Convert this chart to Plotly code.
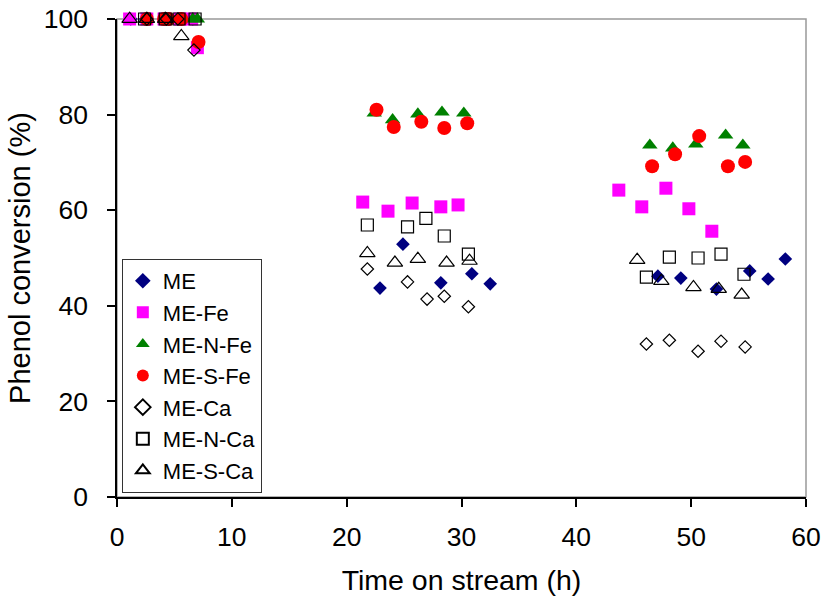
import plotly.graph_objects as go

# ---- data (time on stream h, phenol conversion %) ----
me_t = [1.2, 2.5, 4.2, 5.4, 6.6, 22.9, 24.9, 28.2, 30.9, 32.5, 47.1, 49.1, 52.2, 55.1, 56.7, 58.2]
me_v = [100, 100, 100, 100, 100, 43.7, 52.9, 44.8, 46.7, 44.6, 46.2, 45.8, 43.5, 47.3, 45.6, 49.8]

mefe_t = [1.1, 2.6, 4.1, 5.5, 6.5, 7.0, 21.4, 23.6, 25.7, 28.2, 29.7, 43.7, 45.7, 47.8, 49.8, 51.8]
mefe_v = [100, 100, 100, 100, 100, 94.0, 61.7, 59.8, 61.5, 60.7, 61.1, 64.2, 60.7, 64.6, 60.3, 55.6]

menfe_t = [2.5, 4.3, 5.4, 6.6, 7.0, 22.4, 24.0, 26.2, 28.3, 30.2, 46.4, 48.4, 50.4, 53.0, 54.5]
menfe_v = [100, 100, 100, 100, 100, 80.3, 78.9, 80.1, 80.5, 80.3, 73.6, 73.0, 73.8, 75.7, 73.6]

mesfe_t = [2.6, 4.1, 4.5, 5.6, 7.1, 22.6, 24.1, 26.5, 28.5, 30.5, 46.6, 48.6, 50.7, 53.2, 54.7]
mesfe_v = [100, 100, 100, 100, 95.2, 81.0, 77.4, 78.5, 77.2, 78.2, 69.2, 71.7, 75.5, 69.2, 70.1]

meca_t = [2.6, 4.3, 5.3, 6.7, 21.8, 25.3, 27.0, 28.5, 30.6, 46.1, 48.1, 50.6, 52.6, 54.7]
meca_v = [100, 100, 100, 93.5, 47.7, 45.0, 41.4, 42.0, 39.8, 32.0, 32.8, 30.5, 32.6, 31.4]

menca_t = [2.4, 4.2, 5.4, 6.8, 21.8, 25.3, 26.9, 28.5, 30.6, 46.1, 48.1, 50.6, 52.6, 54.6]
menca_v = [100, 100, 100, 100, 56.9, 56.5, 58.3, 54.6, 50.8, 46.0, 50.2, 50.0, 50.8, 46.6]

mesca_t = [1.1, 2.6, 4.2, 5.6, 21.8, 24.2, 26.2, 28.7, 30.7, 45.3, 47.4, 50.2, 52.4, 54.4]
mesca_v = [100, 100, 100, 96.4, 51.0, 49.0, 49.8, 49.0, 49.4, 49.6, 45.2, 43.9, 43.5, 42.3]

x_ticks = [0, 10, 20, 30, 40, 50, 60]
y_ticks = [0, 20, 40, 60, 80, 100]

series = [
    ("ME", me_t, me_v, "diamond", "#000080", 10.5, None),
    ("ME-Fe", mefe_t, mefe_v, "square", "#FF00FF", 13, None),
    ("ME-N-Fe", menfe_t, menfe_v, "triangle-up", "#008000", 13.5, None),
    ("ME-S-Fe", mesfe_t, mesfe_v, "circle", "#FF0000", 14, None),
    ("ME-Ca", meca_t, meca_v, "diamond-open", "#000000", 9.5, 1.2),
    ("ME-N-Ca", menca_t, menca_v, "square-open", "#000000", 12, 1.2),
    ("ME-S-Ca", mesca_t, mesca_v, "triangle-up-open", "#000000", 13.5, 1.2),
]

fig = go.Figure()
for name, t, v, sym, col, size, lw in series:
    marker = dict(symbol=sym, color=col, size=size)
    if lw:
        marker["line"] = dict(color=col, width=lw)
    else:
        marker["line"] = dict(width=0)
    fig.add_trace(go.Scatter(x=t, y=v, mode="markers", name=name, marker=marker,
                             cliponaxis=False))

font_family = "Liberation Sans, Arial, sans-serif"

fig.update_layout(
    template="none",
    width=826, height=603,
    margin=dict(l=117, r=20, t=19, b=106, autoexpand=False),
    plot_bgcolor="white", paper_bgcolor="white",
    font=dict(family=font_family, color="black", size=20),
    showlegend=True,
    legend=dict(
        x=0.007, y=0.498, xanchor="left", yanchor="top",
        bgcolor="white", bordercolor="#333333", borderwidth=1,
        font=dict(size=22, family=font_family),
        itemsizing="constant", tracegroupgap=0,
    ),
    shapes=[dict(type="rect", xref="paper", yref="paper", x0=0, y0=0, x1=1, y1=1,
                 line=dict(color="#999999", width=1.5), layer="below")],
)
fig.update_xaxes(
    range=[0, 60], tickvals=x_ticks, ticktext=[str(v) for v in x_ticks],
    showgrid=False, zeroline=False, showline=True, linecolor="black", linewidth=1.5,
    ticks="outside", ticklen=8, tickcolor="black", tickwidth=1.5,
    tickfont=dict(size=26.5), automargin=False, ticklabelstandoff=7,
    ticklabeloverflow="allow",
    title=dict(text="Time on stream (h)", font=dict(size=28.5), standoff=20),
)
fig.update_yaxes(
    range=[0, 100], tickvals=y_ticks, ticktext=[str(v) for v in y_ticks],
    showgrid=False, zeroline=False, showline=True, linecolor="black", linewidth=1.5,
    ticks="outside", ticklen=8, tickcolor="black", tickwidth=1.5,
    tickfont=dict(size=26.5), automargin=False, ticklabelstandoff=14,
    ticklabeloverflow="allow",
    title=dict(text="Phenol conversion (%)", font=dict(size=29), standoff=5),
)

fig.write_html("out.html", config={"displayModeBar": False},
               post_script="document.body.style.margin='0';document.body.style.overflow='hidden';")
